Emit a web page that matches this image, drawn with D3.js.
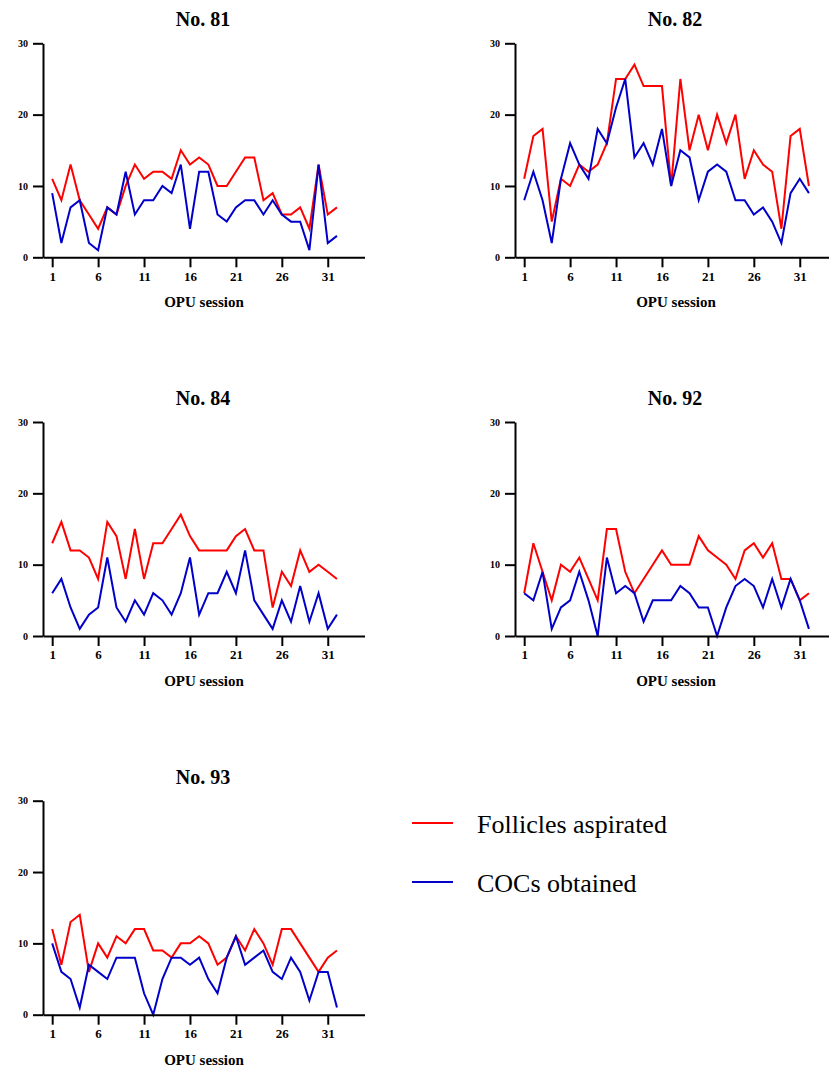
<!DOCTYPE html>
<html>
<head>
<meta charset="utf-8">
<script src="https://cdn.jsdelivr.net/npm/d3@7"></script>
<style>
  body { margin: 0; background: #fff; }
  svg text { font-family: "Liberation Serif", "DejaVu Serif", serif; fill: #000; }
  .axis path, .axis line { stroke: #000; stroke-width: 2; }
  .axis text { font-weight: bold; }
</style>
</head>
<body>
<svg id="chart" width="829" height="1070"></svg>
<script>
// OPU sessions and tick labels
var sessions = d3.range(1, 33);
var xTicks = [1, 6, 11, 16, 21, 26, 31];
var yTicks = [0, 10, 20, 30];
var seriesNames = ['Follicles aspirated', 'COCs obtained'];
var cowNames = ['No. 81', 'No. 82', 'No. 84', 'No. 92', 'No. 93'];

// follicles aspirated per session
var follicles81 = [11, 8, 13, 8, 6, 4, 7, 6, 10, 13, 11, 12, 12, 11, 15, 13, 14, 13, 10, 10, 12, 14, 14, 8, 9, 6, 6, 7, 4, 13, 6, 7];
var follicles82 = [11, 17, 18, 5, 11, 10, 13, 12, 13, 16, 25, 25, 27, 24, 24, 24, 10, 25, 15, 20, 15, 20, 16, 20, 11, 15, 13, 12, 4, 17, 18, 10];
var follicles84 = [13, 16, 12, 12, 11, 8, 16, 14, 8, 15, 8, 13, 13, 15, 17, 14, 12, 12, 12, 12, 14, 15, 12, 12, 4, 9, 7, 12, 9, 10, 9, 8];
var follicles92 = [6, 13, 9, 5, 10, 9, 11, 8, 5, 15, 15, 9, 6, 8, 10, 12, 10, 10, 10, 14, 12, 11, 10, 8, 12, 13, 11, 13, 8, 8, 5, 6];
var follicles93 = [12, 7, 13, 14, 6, 10, 8, 11, 10, 12, 12, 9, 9, 8, 10, 10, 11, 10, 7, 8, 11, 9, 12, 10, 7, 12, 12, 10, 8, 6, 8, 9];

// COCs obtained per session
var cocs81 = [9, 2, 7, 8, 2, 1, 7, 6, 12, 6, 8, 8, 10, 9, 13, 4, 12, 12, 6, 5, 7, 8, 8, 6, 8, 6, 5, 5, 1, 13, 2, 3];
var cocs82 = [8, 12, 8, 2, 11, 16, 13, 11, 18, 16, 21, 25, 14, 16, 13, 18, 10, 15, 14, 8, 12, 13, 12, 8, 8, 6, 7, 5, 2, 9, 11, 9];
var cocs84 = [6, 8, 4, 1, 3, 4, 11, 4, 2, 5, 3, 6, 5, 3, 6, 11, 3, 6, 6, 9, 6, 12, 5, 3, 1, 5, 2, 7, 2, 6, 1, 3];
var cocs92 = [6, 5, 9, 1, 4, 5, 9, 5, 0, 11, 6, 7, 6, 2, 5, 5, 5, 7, 6, 4, 4, 0, 4, 7, 8, 7, 4, 8, 4, 8, 5, 1];
var cocs93 = [10, 6, 5, 1, 7, 6, 5, 8, 8, 8, 3, 0, 5, 8, 8, 7, 8, 5, 3, 8, 11, 7, 8, 9, 6, 5, 8, 6, 2, 6, 6, 1];

var follicles = [follicles81, follicles82, follicles84, follicles92, follicles93];
var cocs = [cocs81, cocs82, cocs84, cocs92, cocs93];

var colors = ['#ff0000', '#0000c8'];
var serif = '"Liberation Serif", "DejaVu Serif", serif';

var svg = d3.select('#chart');

var colLeft = [43, 515];
var rowTop = [43.3, 422, 800.7];
var plotW = 321.5;
var plotH = 214;

function drawPanel(i) {
  var left = colLeft[i % 2];
  var top = rowTop[Math.floor(i / 2)];

  var x = d3.scaleLinear().domain([0, 35]).range([0, plotW]);
  var y = d3.scaleLinear().domain([0, 30]).range([plotH, 0]);

  var g = svg.append('g').attr('transform', 'translate(' + left + ',' + top + ')');

  var line = d3.line()
    .x(function (d, k) { return x(sessions[k]); })
    .y(function (d) { return y(d); });

  [follicles[i], cocs[i]].forEach(function (values, s) {
    g.append('path')
      .datum(values)
      .attr('d', line)
      .attr('fill', 'none')
      .attr('stroke', colors[s])
      .attr('stroke-width', 2)
      .attr('stroke-linejoin', 'miter');
  });

  var yAxis = g.append('g')
    .attr('class', 'axis')
    .call(d3.axisLeft(y).tickValues(yTicks).tickSize(10).tickSizeOuter(0).tickPadding(5));
  yAxis.attr('font-family', null);
  yAxis.selectAll('text').style('font-size', '10px').style('font-family', serif);

  var xAxis = g.append('g')
    .attr('class', 'axis')
    .attr('transform', 'translate(0,' + plotH + ')')
    .call(d3.axisBottom(x).tickValues(xTicks).tickSize(10).tickSizeOuter(0).tickPadding(4));
  xAxis.attr('font-family', null);
  xAxis.selectAll('text').style('font-size', '13px').style('font-family', serif);

  g.append('text')
    .attr('x', 160)
    .attr('y', -17)
    .attr('text-anchor', 'middle')
    .style('font-family', serif)
    .style('font-size', '20px')
    .style('font-weight', 'bold')
    .text(cowNames[i]);

  g.append('text')
    .attr('x', 161)
    .attr('y', plotH + 50)
    .attr('text-anchor', 'middle')
    .style('font-family', serif)
    .style('font-size', '15px')
    .style('font-weight', 'bold')
    .text('OPU session');
}

cowNames.forEach(function (d, i) { drawPanel(i); });

// legend
var legend = svg.append('g').attr('transform', 'translate(412,823)');
seriesNames.forEach(function (name, s) {
  var item = legend.append('g').attr('transform', 'translate(0,' + (s * 59) + ')');
  item.append('line')
    .attr('x1', 0).attr('x2', 41)
    .attr('stroke', colors[s])
    .attr('stroke-width', 2);
  item.append('text')
    .attr('x', 65)
    .attr('y', 10)
    .style('font-family', serif)
    .style('font-size', '26px')
    .text(name);
});
</script>
</body>
</html>
